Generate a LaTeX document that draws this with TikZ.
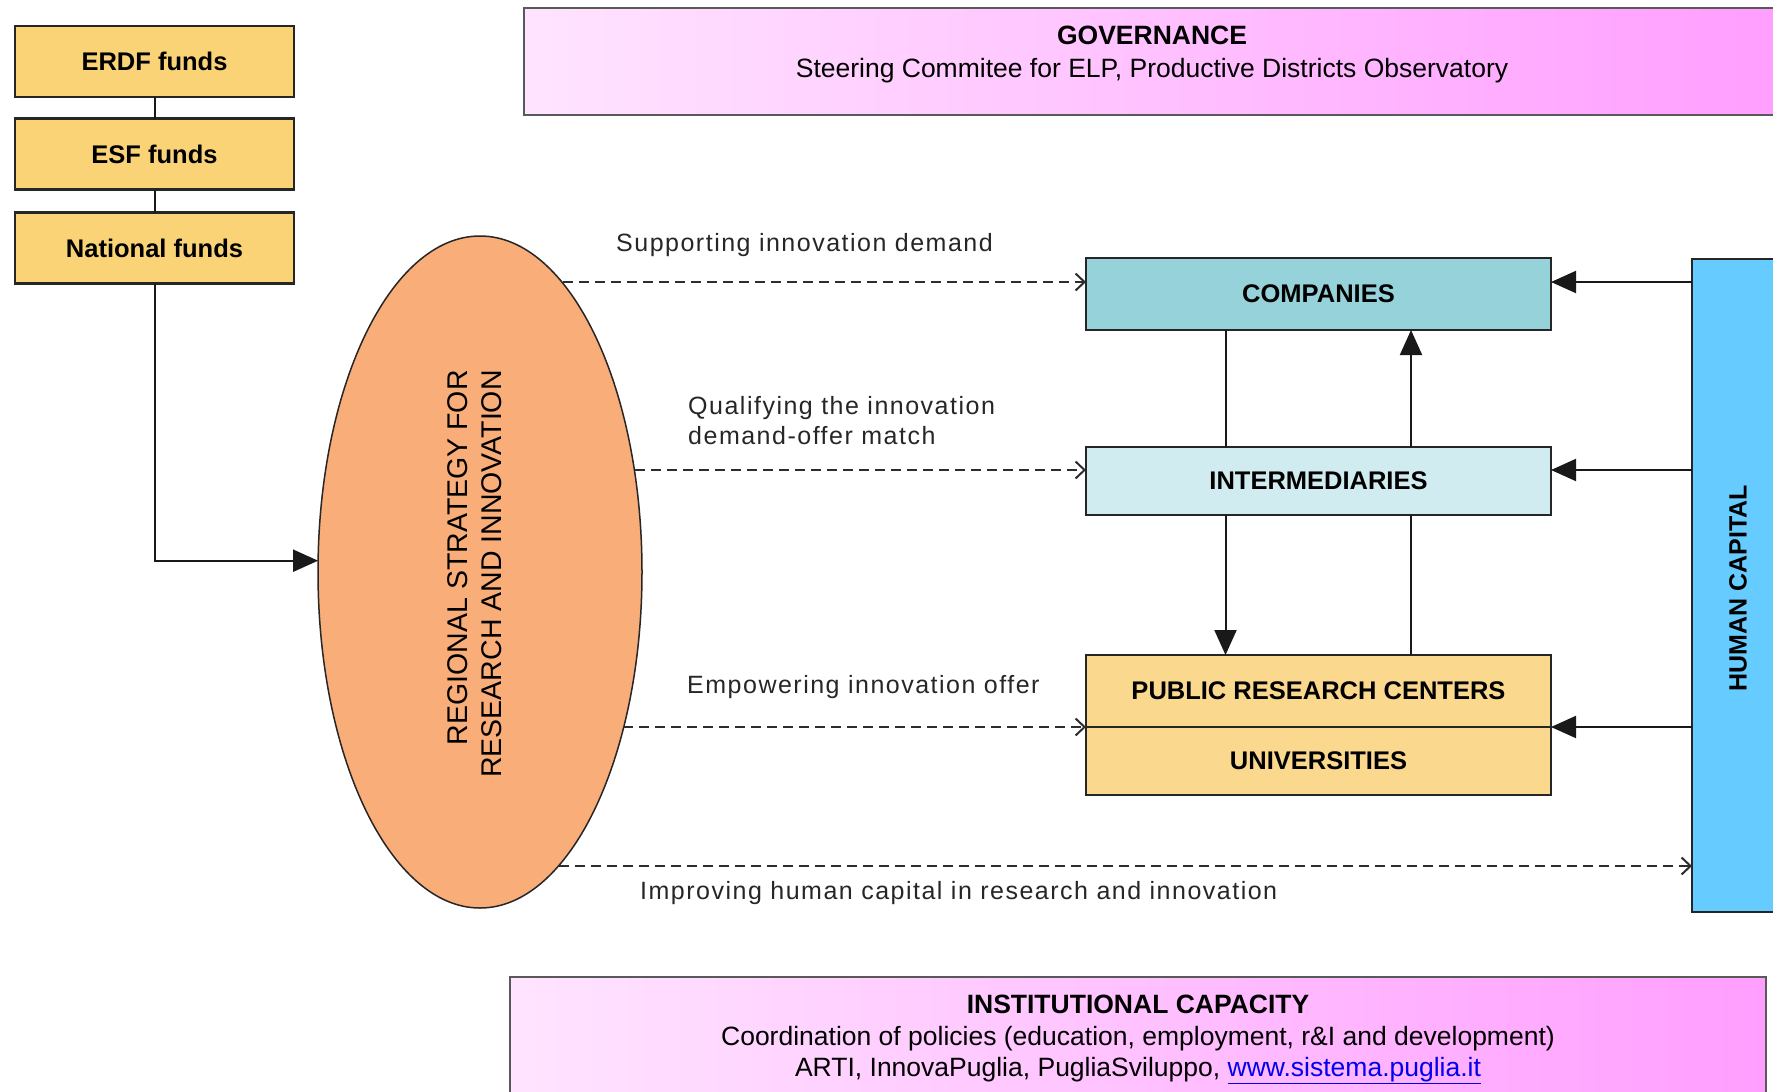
\documentclass[tikz,border=0pt]{standalone}
\usepackage{fontspec}
\setmainfont{Liberation Sans}
\newfontfamily\lblfont{Liberation Sans}[LetterSpace=6]
\usetikzlibrary{arrows.meta,shapes.geometric}
\definecolor{fundc}{RGB}{250,211,118}
\definecolor{compc}{RGB}{150,210,218}
\definecolor{interc}{RGB}{208,236,240}
\definecolor{univc}{RGB}{250,216,142}
\definecolor{hcc}{RGB}{102,204,255}
\definecolor{ellc}{RGB}{249,173,120}
\definecolor{pinkL}{RGB}{255,228,255}
\definecolor{pinkR}{RGB}{255,158,255}
\definecolor{linkc}{RGB}{0,0,238}
\definecolor{dashc}{RGB}{45,45,45}
\begin{document}
\begin{tikzpicture}[x=1pt,y=-1pt,
  boxline/.style={draw=black!85, line width=2.2pt, inner sep=0pt, outer sep=0pt},
  fund/.style={boxline, fill=fundc, minimum width=279pt, minimum height=71pt, font=\bfseries\fontsize{25.5}{30}\selectfont},
  actor/.style={boxline, minimum width=465pt, font=\bfseries\fontsize{25.5}{30}\selectfont},
  band/.style={draw=black!65, line width=1.5pt, left color=pinkL, right color=pinkR, anchor=north west, inner sep=0pt, outer sep=0pt},
  txt/.style={inner sep=0pt, outer sep=0pt, anchor=base, font=\fontsize{26.5}{32}\selectfont},
  lbl/.style={inner sep=0pt, anchor=base west, text=black!85, font=\lblfont\fontsize{25}{30}\selectfont},
  conn/.style={line width=2pt, draw=black!90},
  bigarr/.style={conn, -{Triangle[length=25pt,width=22pt]}},
  darr/.style={line width=2.4pt, draw=dashc, dash pattern=on 10pt off 6pt, -{Straight Barb[length=9pt,width=17pt,line width=2pt]}},
]
\useasboundingbox (0,0) rectangle (1773,1092);
\clip (0,0) rectangle (1773,1092);

% governance band
\node[band, minimum width=1256pt, minimum height=107pt] (gov) at (524,8) {};
\node[txt, font=\bfseries\fontsize{26.5}{32}\selectfont] (govt) at (1152,44) {GOVERNANCE};
\node[txt] (govs) at (1152,77) {Steering Commitee for ELP, Productive Districts Observatory};

% institutional band
\node[band, minimum width=1256pt, minimum height=140pt] (inst) at (510,977) {};
\node[txt, font=\bfseries\fontsize{26.5}{32}\selectfont] (instt) at (1138,1013) {INSTITUTIONAL CAPACITY};
\node[txt] (insts) at (1138,1045) {Coordination of policies (education, employment, r\&I and development)};
\node[txt] (instl) at (1138,1076) {ARTI, InnovaPuglia, PugliaSviluppo, \textcolor{linkc}{\underline{www.sistema.puglia.it}}};

% funds
\node[fund] (erdf) at (154.5,61.5) {ERDF funds};
\node[fund] (esf) at (154.5,154) {ESF funds};
\node[fund] (nat) at (154.5,248) {National funds};
\draw[conn] (erdf) -- (esf);
\draw[conn] (esf) -- (nat);

% ellipse
\node[ellipse, draw=black!85, line width=1.5pt, fill=ellc, minimum width=324pt, minimum height=672pt, inner sep=0pt, outer sep=0pt] (ell) at (480,572) {};
\node[rotate=90, align=right, inner sep=0pt, font=\fontsize{28.5}{34}\selectfont] (ellt) at (475,574) {REGIONAL STRATEGY FOR\\RESEARCH AND INNOVATION};
\draw[bigarr] (nat.south) |- (ell.176.5);

% actors
\node[actor, fill=compc, minimum height=72pt] (comp) at (1318.5,294) {COMPANIES};
\node[actor, fill=interc, minimum height=68pt] (inter) at (1318.5,481) {INTERMEDIARIES};
\node[actor, fill=univc, minimum height=72pt] (prc) at (1318.5,691) {PUBLIC RESEARCH CENTERS};
\node[actor, fill=univc, minimum height=68pt] (univ) at (1318.5,761) {UNIVERSITIES};

% human capital
\node[boxline, fill=hcc, minimum width=90pt, minimum height=653pt] (hc) at (1737,585.5) {};
\node[rotate=90, inner sep=0pt, font=\bfseries\fontsize{25}{30}\selectfont] (hct) at (1738,588) {HUMAN CAPITAL};

% coordinates
\coordinate (cin) at ([yshift=-24pt]comp.north west);
\coordinate (cout) at ([yshift=-24pt]comp.north east);
\coordinate (iin) at ([yshift=-23pt]inter.north west);
\coordinate (iout) at ([yshift=-23pt]inter.north east);
\coordinate (hcin) at ([yshift=46pt]hc.south west);
\coordinate (c1) at ([xshift=-93pt]comp.south);
\coordinate (c2) at ([xshift=92.5pt]comp.south);

% vertical links
\draw[conn] (c1) -- (c1 |- inter.north);
\draw[bigarr] (c2 |- inter.north) -- (c2);
\draw[bigarr] (c1 |- inter.south) -- (c1 |- prc.north);
\draw[conn] (c2 |- prc.north) -- (c2 |- inter.south);

% human capital arrows
\draw[bigarr] (hc.west |- cout) -- (cout);
\draw[bigarr] (hc.west |- iout) -- (iout);
\draw[bigarr] (hc.west |- prc.south east) -- (prc.south east);

% dashed arrows
\draw[darr] (ell.74 |- cin) -- (cin);
\draw[darr] (ell.33.5 |- iin) -- (iin);
\draw[darr] (ell.312.8 |- prc.south west) -- (prc.south west);
\draw[darr] (ell.285 |- hcin) -- (hcin);

% labels
\node[lbl] (l1) at (616,251) {Supporting innovation demand};
\node[lbl] (l2a) at (688,414) {Qualifying the innovation};
\node[lbl] (l2b) at (688,444) {demand-offer match};
\node[lbl] (l3) at (687,693) {Empowering innovation offer};
\node[lbl] (l4) at (640,899) {Improving human capital in research and innovation};
\end{tikzpicture}
\end{document}
